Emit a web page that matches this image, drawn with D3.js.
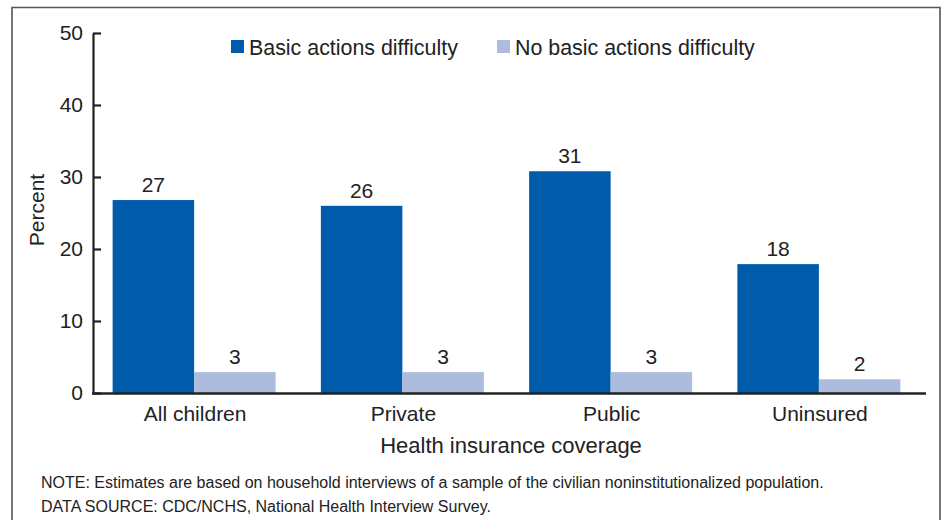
<!DOCTYPE html>
<html>
<head>
<meta charset="utf-8">
<script src="https://cdn.jsdelivr.net/npm/d3@7"></script>
<style>
  html, body { margin: 0; padding: 0; background: #fff; }
  svg { display: block; font-family: "Liberation Sans", Arial, sans-serif; }
</style>
</head>
<body>
<svg id="chart" width="947" height="520"></svg>
<script>
const categories = ["All children", "Private", "Public", "Uninsured"];
const seriesNames = ["Basic actions difficulty", "No basic actions difficulty"];
const basicValues = [26.8, 26.0, 30.8, 17.9];
const noBasicValues = [2.9, 2.9, 2.9, 1.9];
const basicLabels = ["27", "26", "31", "18"];
const noBasicLabels = ["3", "3", "3", "2"];
const yTicks = [0, 10, 20, 30, 40, 50];
const xTitle = "Health insurance coverage";
const yTitle = "Percent";
const notes = [
  "NOTE: Estimates are based on household interviews of a sample of the civilian noninstitutionalized population.",
  "DATA SOURCE: CDC/NCHS, National Health Interview Survey."
];

const colors = ["#005BAA", "#ADBBDD"];
const textColor = "#222";

const svg = d3.select("#chart");

// frame
svg.append("path")
  .attr("d", "M12,530 L12,7.5 L940,7.5 L940,530")
  .attr("fill", "none")
  .attr("stroke", "#555")
  .attr("stroke-width", 1.6);

const x0 = d3.scaleBand().domain(categories).range([91, 924]).paddingInner(0).paddingOuter(0);
const x1 = d3.scaleBand().domain(seriesNames).range([0, 163]);
const groupOffset = (x0.bandwidth() - 163) / 2 - 1;
const y = d3.scaleLinear().domain([0, 50]).range([393, 33]);

const data = categories.map((c, i) => ({
  cat: c,
  vals: [
    { s: seriesNames[0], v: basicValues[i], lab: basicLabels[i] },
    { s: seriesNames[1], v: noBasicValues[i], lab: noBasicLabels[i] }
  ]
}));

const groups = svg.append("g").selectAll("g").data(data).join("g")
  .attr("transform", d => `translate(${x0(d.cat) + groupOffset},0)`);

groups.selectAll("rect").data(d => d.vals).join("rect")
  .attr("x", d => x1(d.s))
  .attr("width", x1.bandwidth())
  .attr("y", d => y(d.v))
  .attr("height", d => y(0) - y(d.v))
  .attr("fill", (d, i) => colors[i]);

groups.selectAll("text").data(d => d.vals).join("text")
  .attr("x", d => x1(d.s) + x1.bandwidth() / 2)
  .attr("y", d => y(d.v) - 8)
  .attr("text-anchor", "middle")
  .attr("font-size", 21)
  .attr("fill", textColor)
  .text(d => d.lab);

// y axis
const yAxis = d3.axisLeft(y).tickValues(yTicks).tickSize(-8).tickPadding(10).tickSizeOuter(0);
const gy = svg.append("g").attr("transform", "translate(93,0)").call(yAxis);
gy.select(".domain").attr("stroke", "#222").attr("stroke-width", 2.2);
gy.selectAll(".tick line").attr("stroke", "#222").attr("stroke-width", 2.2);
gy.selectAll(".tick text").attr("font-size", 21).attr("fill", textColor)
  .attr("font-family", "Liberation Sans, Arial, sans-serif");

// x axis
const xAxis = d3.axisBottom(x0).tickSize(0).tickPadding(13).tickSizeOuter(0);
const gx = svg.append("g").attr("transform", "translate(0,393)").call(xAxis);
gx.select(".domain").attr("d", "M92,0.5H926").attr("stroke", "#222").attr("stroke-width", 2.4);
gx.selectAll(".tick text").attr("font-size", 21).attr("fill", textColor)
  .attr("font-family", "Liberation Sans, Arial, sans-serif");

// axis titles
svg.append("text")
  .attr("x", 511).attr("y", 453)
  .attr("text-anchor", "middle")
  .attr("font-size", 22)
  .attr("fill", textColor)
  .text(xTitle);

svg.append("text")
  .attr("transform", "translate(44,210) rotate(-90)")
  .attr("text-anchor", "middle")
  .attr("font-size", 21)
  .attr("fill", textColor)
  .text(yTitle);

// legend
const legendPos = [231, 497];
const lg = svg.append("g").selectAll("g").data(seriesNames).join("g")
  .attr("transform", (d, i) => `translate(${legendPos[i]},40)`);
lg.append("rect").attr("width", 13).attr("height", 13).attr("fill", (d, i) => colors[i]);
lg.append("text").attr("x", 18).attr("y", 14.5)
  .attr("font-size", 21.4).attr("fill", textColor).text(d => d);

// notes
svg.append("g").selectAll("text").data(notes).join("text")
  .attr("x", 41)
  .attr("y", (d, i) => 488 + i * 24)
  .attr("font-size", 16)
  .attr("fill", textColor)
  .text(d => d);
</script>
</body>
</html>
